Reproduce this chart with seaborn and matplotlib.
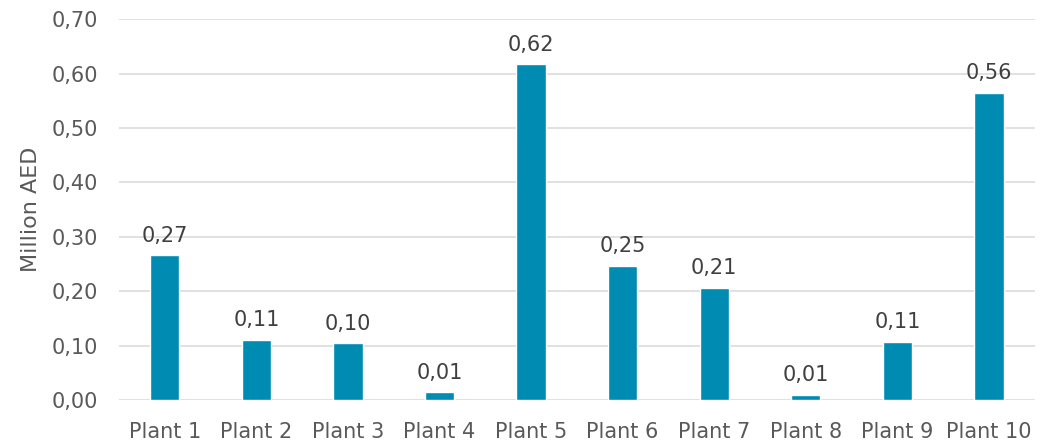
import matplotlib.pyplot as plt
import pandas as pd
import seaborn as sns
from matplotlib.ticker import FuncFormatter, MultipleLocator

sns.set_theme(style='white')
plt.rcParams['font.family'] = ['DejaVu Sans']

# Values (million AED)
plants = ['Plant 1', 'Plant 2', 'Plant 3', 'Plant 4', 'Plant 5',
          'Plant 6', 'Plant 7', 'Plant 8', 'Plant 9', 'Plant 10']
values = [0.266, 0.111, 0.104, 0.014, 0.617, 0.246, 0.206, 0.010, 0.107, 0.564]

df = pd.DataFrame({'plant': plants, 'value': values})

fig = plt.figure(figsize=(10.41, 4.44), dpi=100)
ax = fig.add_axes([0.1143, 0.099, 0.8797, 0.858])

sns.barplot(data=df, x='plant', y='value', color='#008BB2', width=0.32,
            saturation=1, ax=ax, zorder=3)

ax.set_ylim(0, 0.70)
ax.yaxis.set_major_locator(MultipleLocator(0.10))
ax.yaxis.set_major_formatter(FuncFormatter(lambda v, _: f'{v:.2f}'.replace('.', ',')))
ax.grid(axis='y', color='#DEDEDE', linewidth=1.3, zorder=0)
ax.set_axisbelow(True)
for s in ax.spines.values():
    s.set_visible(False)

ax.set_xlabel('')
ax.set_ylabel('Million AED', fontsize=16, color='#595959', labelpad=8)
ax.tick_params(axis='both', length=0, labelsize=15, labelcolor='#595959')
ax.tick_params(axis='y', pad=15)
ax.tick_params(axis='x', pad=16)
ax.set_xlim(-0.5, len(plants) - 0.5)

labels = [f'{v:.2f}'.replace('.', ',') for v in values]
ax.bar_label(ax.containers[0], labels=labels, padding=7, fontsize=15, color='#404040')

fig.savefig('out.png', dpi=100)
